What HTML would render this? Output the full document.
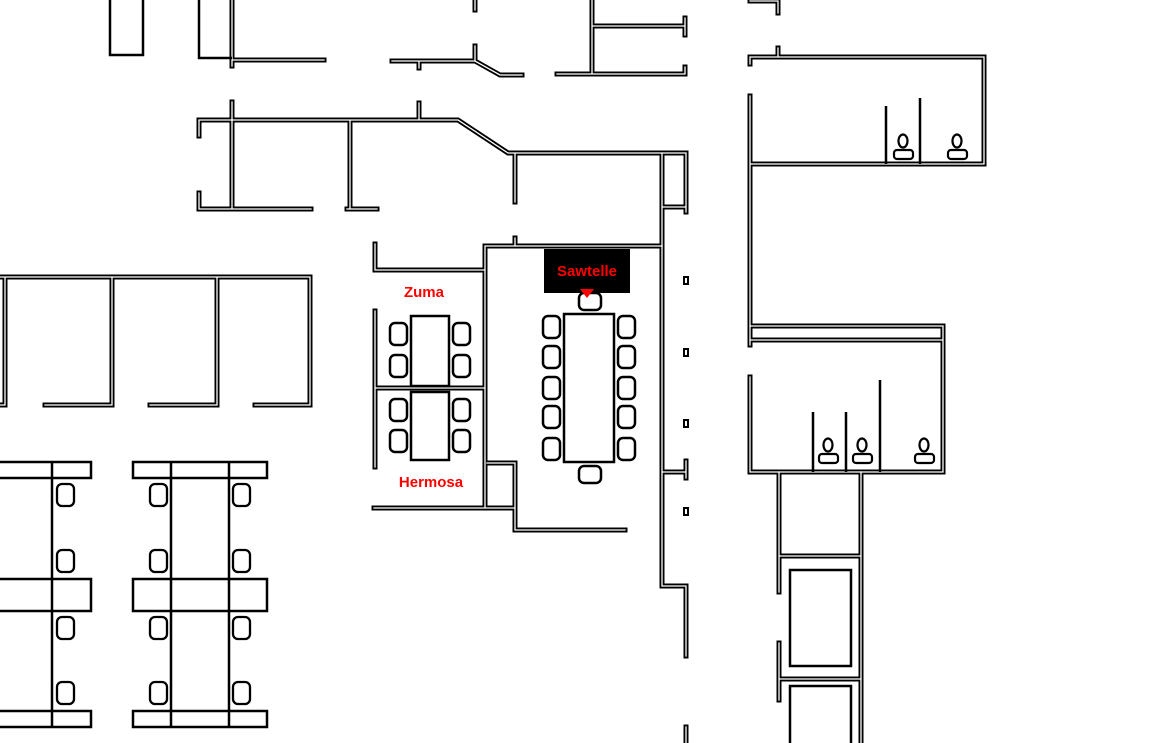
<!DOCTYPE html>
<html><head><meta charset="utf-8"><style>
html,body{margin:0;padding:0;background:#fff;width:1168px;height:743px;overflow:hidden}
svg{display:block}
.lbl{font-family:"Liberation Sans Narrow","Liberation Sans",sans-serif;font-weight:bold;fill:#f00;font-size:15px;text-anchor:middle}
</style></head><body>
<svg width="1168" height="743" viewBox="0 0 1168 743" xmlns="http://www.w3.org/2000/svg">
<defs>
<g id="walls" fill="none" stroke-linejoin="miter" stroke-linecap="square">
<path d="M232 0V66 M232 60H324"/>
<path d="M475 0V10 M392 61H475L500 75H522 M475 46V61 M419 61V68"/>
<path d="M592 0V74 M592 26H685 M685 18V35 M557 74H685 M685 67V74"/>
<path d="M750 1H778V13"/>
<path d="M199 136V120H458L508 153H686V212 M232 102V209 M419 103V120 M199 193V209H311 M350 120V209 M347 209H377 M515 153V202 M662 153V586H686V656 M662 207H686"/>
<path d="M485 246H662 M515 238V246 M375 244V270H485 M485 246V508 M375 311V467 M375 388H485 M374 508H515 M487 463H515V530H625"/>
<path d="M662 472H686 M686 461V478"/>
<path d="M686 727V743"/>
<path d="M0 277H310V405H255 M5 277V405H0 M112 277V405H45 M217 277V405H150"/>
<path d="M750 64V57H984V164H750 M778 48V57 M750 96V345"/>
<path d="M750 326H943V472H750 M750 340H943 M750 377V472"/>
<path d="M779 472V592 M861 472V743 M779 556H861 M779 643V700 M779 679H861"/>
</g>
</defs>
<use href="#walls" stroke="#000" stroke-width="5"/>
<use href="#walls" stroke="#fff" stroke-width="1.3"/>
<g fill="none" stroke="#000" stroke-width="2.5">
<rect x="110" y="-2" width="33" height="57"/>
<path d="M199 0V58H232"/>
<path d="M886 106V164 M920 98V164 M813 412V472 M846 412V472 M880 380V472"/>
<rect x="790" y="570" width="61" height="96"/>
<rect x="790" y="686" width="61" height="60"/>
<rect x="-5" y="462" width="96" height="16"/><rect x="-5" y="579" width="96" height="32"/><rect x="-5" y="711" width="96" height="16"/>
<path d="M52 462V727"/>
<rect x="133" y="462" width="134" height="16"/><rect x="133" y="579" width="134" height="32"/><rect x="133" y="711" width="134" height="16"/>
<path d="M171 462V727 M229 462V727"/>
<g stroke-width="2.3">
<rect x="57" y="484" width="17" height="22" rx="5"/><rect x="57" y="550" width="17" height="22" rx="5"/><rect x="57" y="617" width="17" height="22" rx="5"/><rect x="57" y="682" width="17" height="22" rx="5"/>
<rect x="150" y="484" width="17" height="22" rx="5"/><rect x="150" y="550" width="17" height="22" rx="5"/><rect x="150" y="617" width="17" height="22" rx="5"/><rect x="150" y="682" width="17" height="22" rx="5"/>
<rect x="233" y="484" width="17" height="22" rx="5"/><rect x="233" y="550" width="17" height="22" rx="5"/><rect x="233" y="617" width="17" height="22" rx="5"/><rect x="233" y="682" width="17" height="22" rx="5"/>
</g>
<rect x="564" y="314" width="50" height="148"/>
<g stroke-width="2.5">
<rect x="543" y="316" width="17" height="22" rx="5"/><rect x="543" y="346" width="17" height="22" rx="5"/><rect x="543" y="377" width="17" height="22" rx="5"/><rect x="543" y="406" width="17" height="22" rx="5"/><rect x="543" y="438" width="17" height="22" rx="5"/>
<rect x="618" y="316" width="17" height="22" rx="5"/><rect x="618" y="346" width="17" height="22" rx="5"/><rect x="618" y="377" width="17" height="22" rx="5"/><rect x="618" y="406" width="17" height="22" rx="5"/><rect x="618" y="438" width="17" height="22" rx="5"/>
<rect x="579" y="293" width="22" height="17" rx="5"/><rect x="579" y="466" width="22" height="17" rx="5"/>
<rect x="411" y="316" width="38" height="70"/><rect x="411" y="392" width="38" height="68"/>
<rect x="390" y="323" width="17" height="22" rx="5"/><rect x="390" y="355" width="17" height="22" rx="5"/>
<rect x="453" y="323" width="17" height="22" rx="5"/><rect x="453" y="355" width="17" height="22" rx="5"/>
<rect x="390" y="399" width="17" height="22" rx="5"/><rect x="390" y="430" width="17" height="22" rx="5"/>
<rect x="453" y="399" width="17" height="22" rx="5"/><rect x="453" y="430" width="17" height="22" rx="5"/>
</g>
<g stroke-width="2.2">
<ellipse cx="903" cy="141" rx="4.5" ry="6.5"/><rect x="894" y="150" width="19" height="9" rx="3"/>
<ellipse cx="957" cy="141" rx="4.5" ry="6.5"/><rect x="948" y="150" width="19" height="9" rx="3"/>
<ellipse cx="828" cy="445" rx="4.5" ry="6.5"/><rect x="819" y="454" width="19" height="9" rx="3"/>
<ellipse cx="862" cy="445" rx="4.5" ry="6.5"/><rect x="853" y="454" width="19" height="9" rx="3"/>
<ellipse cx="924" cy="445" rx="4.5" ry="6.5"/><rect x="915" y="454" width="19" height="9" rx="3"/>
</g>
<g stroke-width="2"><rect x="684" y="277" width="4" height="7"/><rect x="684" y="349" width="4" height="7"/><rect x="684" y="420" width="4" height="7"/><rect x="684" y="508" width="4" height="7"/></g>
</g>
<rect x="544" y="249" width="86" height="44" fill="#000"/>
<polygon points="580,289 594,289 587,298" fill="#f00"/>
<text class="lbl" x="587" y="276">Sawtelle</text>
<text class="lbl" x="424" y="297">Zuma</text>
<text class="lbl" x="431" y="487">Hermosa</text>
</svg>
</body></html>
